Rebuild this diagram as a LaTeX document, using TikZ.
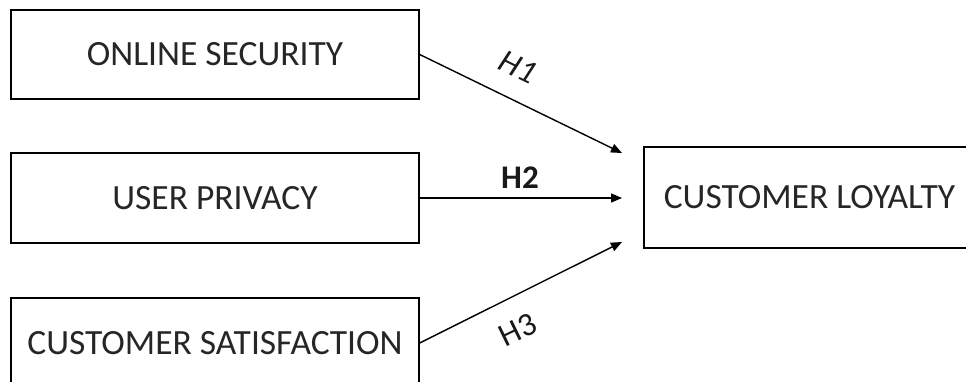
\documentclass[tikz,border=0pt]{standalone}
\usepackage{fontspec}
\setmainfont{Carlito}
\usetikzlibrary{arrows.meta}
\begin{document}
\begin{tikzpicture}[x=1pt,y=-1pt,
  box/.style={draw=black,line width=1.4pt,inner sep=0pt,font=\fontsize{35.5}{42}\selectfont,text=black!85},
  arr/.style={draw=black,line width=1.4pt,-{Triangle[length=11pt,width=9pt]}},
  hlab/.style={font=\fontsize{33}{39}\selectfont,text=black!90,inner sep=0pt}]
\useasboundingbox (0,0) rectangle (966,382);
\clip (0,0) rectangle (966,382);
\node[box,minimum width=408pt,minimum height=89pt] (sec) at (215,54.5) {ONLINE SECURITY};
\node[box,minimum width=408pt,minimum height=90pt] (priv) at (215,198) {USER PRIVACY};
\node[box,minimum width=408pt,minimum height=90pt] (sat) at (215,343) {CUSTOMER SATISFACTION};
\node[box,minimum width=331pt,minimum height=101pt] (loy) at (809.5,197.5) {CUSTOMER LOYALTY};
\coordinate (e1) at (622,153);
\coordinate (e2) at (622,198);
\coordinate (e3) at (622,242);
\draw[arr] (sec.east) -- (e1);
\draw[arr] (priv.east) -- (e2);
\draw[arr] (sat.east) -- (e3);
\node[hlab,rotate=-26] (h1) at (518,67) {\itshape H1};
\node[hlab] (h2) at (520,178) {\bfseries H2};
\node[hlab,rotate=26] (h3) at (518,330) {H3};
\end{tikzpicture}
\end{document}
